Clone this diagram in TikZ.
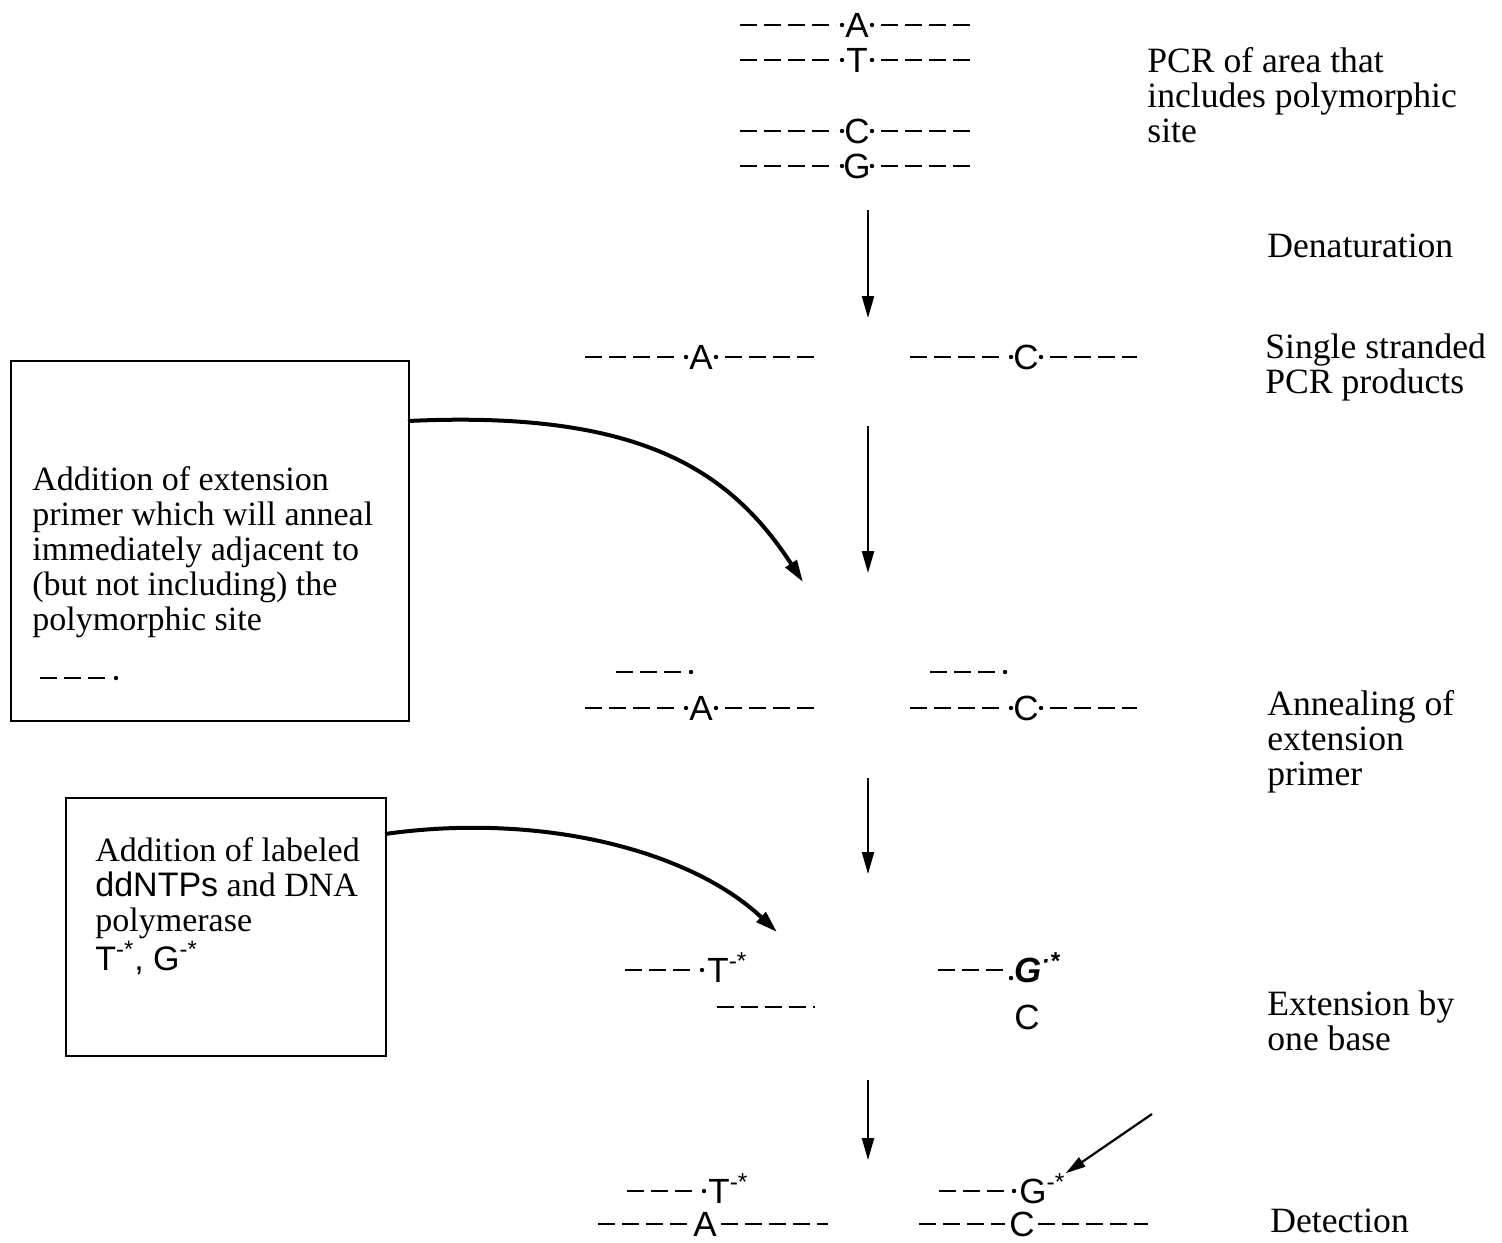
\documentclass[tikz,border=0pt]{standalone}
\usepackage{fontspec}
\setmainfont{Liberation Serif}
\newfontfamily\lsans{Liberation Sans}
\usetikzlibrary{arrows.meta}
\tikzset{
  lbl/.style={anchor=base west, inner sep=0pt, align=left, font=\fontsize{17}{17.5}\selectfont},
  rlbl/.style={lbl, font=\fontsize{17.8}{17.3}\selectfont},
  basel/.style={inner sep=0pt, font=\lsans\fontsize{17.5}{17.5}\selectfont},
  strandline/.style={line width=1.4pt, dash pattern=on 8.5pt off 3.5pt},
  flow/.style={line width=1.1pt, -{Triangle[length=11pt,width=6pt]}},
  curvearrow/.style={line width=2pt, -{Triangle[length=11pt,width=6.5pt]}},
  boxframe/.style={draw, line width=1pt, inner sep=0pt, anchor=north west},
}
\newcommand\dnastrand[6]{%
  \node[basel] (#1) at (#4,#2) {#6};
  \draw[strandline] (#3,#2) -- (#4-21,#2);
  \fill (#4-15,#2) circle (1.1pt);
  \fill (#4+15,#2) circle (1.1pt);
  \draw[strandline] (#4+24,#2) -- (#5,#2);
}
\begin{document}
\begin{tikzpicture}[x=0.5pt,y=-0.5pt]
\useasboundingbox (0,0) rectangle (1502,1242);

% --- PCR product (double strands)
\dnastrand{tA}{25}{740}{857}{970}{A}
\dnastrand{tT}{60}{740}{857}{970}{T}
\dnastrand{tC}{131}{740}{857}{970}{C}
\dnastrand{tG}{166}{740}{857}{970}{G}

% --- single stranded
\dnastrand{sA}{357}{585}{701}{814}{A}
\dnastrand{sC}{357}{910}{1026}{1137}{C}

% --- annealing
\draw[strandline] (616,672) -- (683,672); \fill (691,672) circle (1.1pt);
\draw[strandline] (930,672) -- (997,672); \fill (1005,672) circle (1.1pt);
\dnastrand{aA}{708}{585}{701}{814}{A}
\dnastrand{aC}{708}{910}{1026}{1137}{C}

% --- extension by one base
\draw[strandline] (625,970) -- (695,970); \fill (702,970) circle (1.1pt);
\node[basel, anchor=base west] (eT) at (707,982) {T\textsuperscript{-*}};
\draw[strandline] (938,970) -- (1005,970); \fill (1011,978) circle (1.1pt);
\node[basel, anchor=base west, font=\lsans\bfseries\itshape\fontsize{17.5}{17.5}\selectfont] (eG) at (1014,982) {G\textsuperscript{·*}};
\draw[strandline] (717,1007) -- (815,1007);
\node[basel] (eC) at (1027,1017) {C};

% --- detection
\draw[strandline] (627,1191) -- (697,1191); \fill (704,1191) circle (1.1pt);
\node[basel, anchor=base west] (dT) at (708,1203) {T\textsuperscript{-*}};
\draw[strandline] (939,1191) -- (1008,1191); \fill (1014,1191) circle (1.1pt);
\node[basel, anchor=base west] (dG) at (1019,1203) {G\textsuperscript{-*}};
\node[basel] (dA) at (705,1224) {A};
\draw[strandline] (598,1224) -- (690,1224);
\draw[strandline] (721,1224) -- (828,1224);
\node[basel] (dC) at (1022,1224) {C};
\draw[strandline] (919,1224) -- (1005,1224);
\draw[strandline] (1038,1224) -- (1148,1224);

% --- vertical flow arrows
\coordinate (f1s) at (868,210); \coordinate (f1e) at (868,318);
\coordinate (f2s) at (868,426); \coordinate (f2e) at (868,573);
\coordinate (f3s) at (868,778); \coordinate (f3e) at (868,874);
\coordinate (f4s) at (868,1080); \coordinate (f4e) at (868,1160);
\draw[flow] (f1s) -- (f1e);
\draw[flow] (f2s) -- (f2e);
\draw[flow] (f3s) -- (f3e);
\draw[flow] (f4s) -- (f4e);

% --- detection pointer
\coordinate (detp) at (1152,1114);
\draw[line width=1.1pt, -{Triangle[length=10pt,width=5.5pt]}] (detp) -- (dG.north east);

% --- right-hand step labels (anchored at baseline of last line)
\node[rlbl] (l1) at (1147,142) {PCR of area that\\includes polymorphic\\site};
\node[rlbl] (l2) at (1267,257) {Denaturation};
\node[rlbl] (l3) at (1265,393) {Single stranded\\PCR products};
\node[rlbl] (l4) at (1267,785) {Annealing of\\extension\\primer};
\node[rlbl] (l5) at (1267,1050) {Extension by\\one base};
\node[rlbl] (l6) at (1270,1232) {Detection};

% --- box 1
\node[boxframe, minimum width=199pt, minimum height=180pt] (box1) at (10,360) {};
\node[lbl] (b1t) at (32,630) {Addition of extension\\primer which will anneal\\immediately adjacent to\\(but not including) the\\polymorphic site};
\draw[strandline] (40,678) -- (108,678); \fill (116,678) circle (1.1pt);
\coordinate (c1s) at (408,421);
\coordinate (c1e) at (803,582);
\draw[curvearrow] (c1s) .. controls (640,410) and (730,470) .. (c1e);

% --- box 2
\node[boxframe, minimum width=160pt, minimum height=129pt] (box2) at (65,797) {};
\node[lbl] (b2t) at (95,970) {Addition of labeled\\{\lsans ddNTPs} and DNA\\polymerase\\{\lsans T\textsuperscript{-*}, G\textsuperscript{-*}}};
\coordinate (c2s) at (385,834);
\coordinate (c2e) at (777,932);
\draw[curvearrow] (c2s) .. controls (540,812) and (690,850) .. (c2e);
\end{tikzpicture}
\end{document}
